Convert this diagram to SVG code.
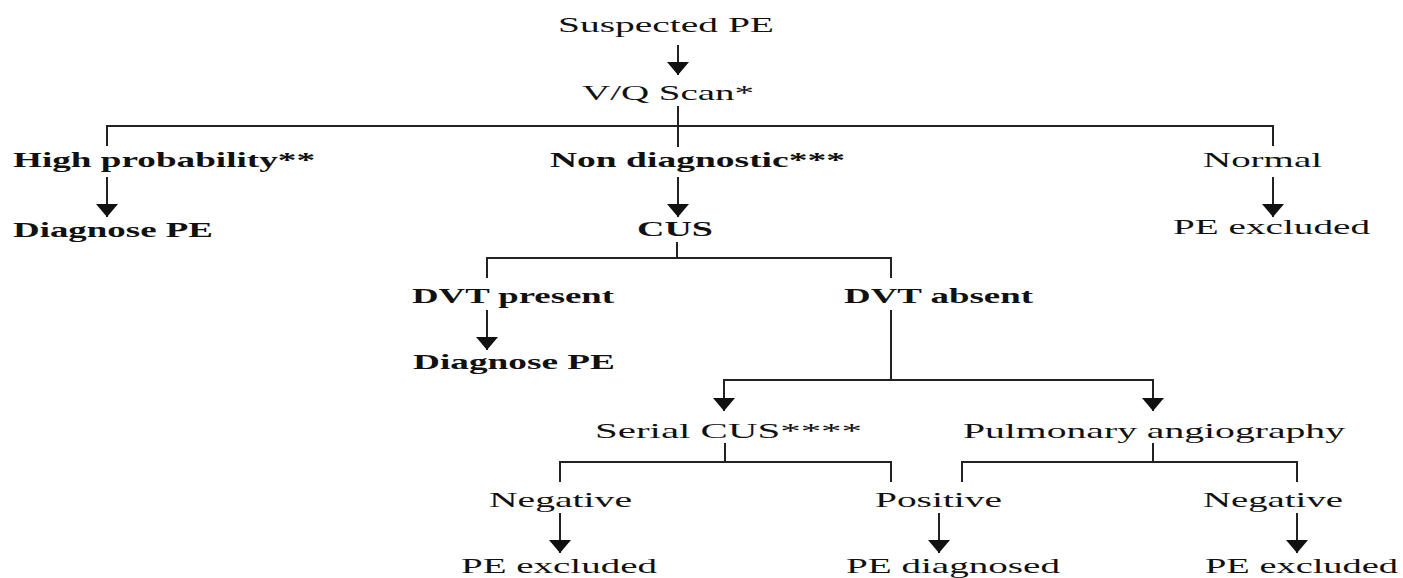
<svg xmlns="http://www.w3.org/2000/svg" width="1403" height="578" viewBox="0 0 1403 578">
<style>
text{font-family:"Liberation Serif","Times New Roman",serif;font-size:22px;fill:#111}
.b{font-weight:bold}
.ln{stroke:#222;stroke-width:2;fill:none}
</style>
<defs>
<marker id="ah" viewBox="0 0 13 22" refX="13" refY="11" markerWidth="13" markerHeight="22" orient="auto" markerUnits="userSpaceOnUse">
<path d="M0,0 L13,11 L0,22 z" fill="#111"/>
</marker>
</defs>
<rect width="1403" height="578" fill="#fff"/>
<g id="connectors">
<path class="ln" d="M678,45 V75" marker-end="url(#ah)"/>
<path class="ln" d="M678,106 V147"/>
<path class="ln" d="M107,146 V126 H1273 V146"/>
<path class="ln" d="M107,177 V217" marker-end="url(#ah)"/>
<path class="ln" d="M678,177 V217" marker-end="url(#ah)"/>
<path class="ln" d="M1273,177 V217" marker-end="url(#ah)"/>
<path class="ln" d="M677,242 V258"/>
<path class="ln" d="M487,278 V258 H891 V278"/>
<path class="ln" d="M487,310 V350" marker-end="url(#ah)"/>
<path class="ln" d="M891,310 V380"/>
<path class="ln" d="M724,411 V380 H1153 V411" marker-end="url(#ah)"/>
<path class="ln" d="M724,380 V411" marker-end="url(#ah)"/>
<path class="ln" d="M725,443 V462"/>
<path class="ln" d="M560,482 V462 H891 V482"/>
<path class="ln" d="M1153,443 V462"/>
<path class="ln" d="M962,482 V462 H1297 V482"/>
<path class="ln" d="M560,513 V553" marker-end="url(#ah)"/>
<path class="ln" d="M939,513 V553" marker-end="url(#ah)"/>
<path class="ln" d="M1297,513 V553" marker-end="url(#ah)"/>
</g>
<g id="n-suspected"><text x="558" y="32" textLength="216" lengthAdjust="spacingAndGlyphs">Suspected PE</text></g>
<g id="n-vq"><text x="582" y="100" textLength="172" lengthAdjust="spacingAndGlyphs">V/Q Scan*</text></g>
<g id="n-high"><text class="b" x="13" y="167" textLength="302" lengthAdjust="spacingAndGlyphs">High probability**</text></g>
<g id="n-nondiag"><text class="b" x="550" y="167" textLength="295" lengthAdjust="spacingAndGlyphs">Non diagnostic***</text></g>
<g id="n-normal"><text x="1203" y="167" textLength="119" lengthAdjust="spacingAndGlyphs">Normal</text></g>
<g id="n-diag1"><text class="b" x="13" y="237" textLength="200" lengthAdjust="spacingAndGlyphs">Diagnose PE</text></g>
<g id="n-cus"><text class="b" x="637" y="236" textLength="76" lengthAdjust="spacingAndGlyphs">CUS</text></g>
<g id="n-excl1"><text x="1173" y="234" textLength="197" lengthAdjust="spacingAndGlyphs">PE excluded</text></g>
<g id="n-dvtp"><text class="b" x="412" y="303" textLength="202" lengthAdjust="spacingAndGlyphs">DVT present</text></g>
<g id="n-dvta"><text class="b" x="844" y="303" textLength="189" lengthAdjust="spacingAndGlyphs">DVT absent</text></g>
<g id="n-diag2"><text class="b" x="413" y="369" textLength="202" lengthAdjust="spacingAndGlyphs">Diagnose PE</text></g>
<g id="n-serial"><text x="595" y="438" textLength="267" lengthAdjust="spacingAndGlyphs">Serial CUS****</text></g>
<g id="n-pulm"><text x="963" y="438" textLength="382" lengthAdjust="spacingAndGlyphs">Pulmonary angiography</text></g>
<g id="n-neg1"><text x="489" y="507" textLength="143" lengthAdjust="spacingAndGlyphs">Negative</text></g>
<g id="n-pos"><text x="875" y="507" textLength="127" lengthAdjust="spacingAndGlyphs">Positive</text></g>
<g id="n-neg2"><text x="1203" y="507" textLength="140" lengthAdjust="spacingAndGlyphs">Negative</text></g>
<g id="n-excl2"><text x="461" y="573" textLength="196" lengthAdjust="spacingAndGlyphs">PE excluded</text></g>
<g id="n-diagnosed"><text x="846" y="573" textLength="214" lengthAdjust="spacingAndGlyphs">PE diagnosed</text></g>
<g id="n-excl3"><text x="1205" y="573" textLength="193" lengthAdjust="spacingAndGlyphs">PE excluded</text></g>
</svg>
